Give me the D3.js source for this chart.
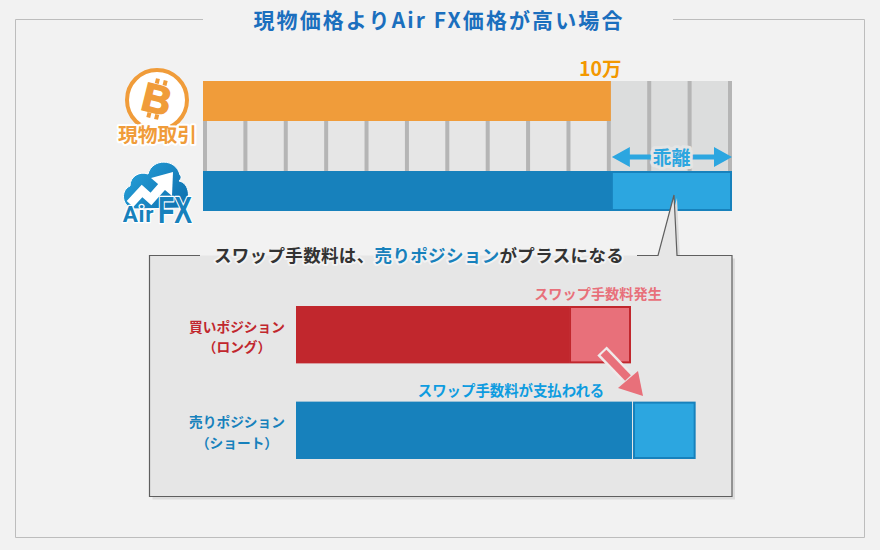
<!DOCTYPE html>
<html>
<head>
<meta charset="utf-8">
<script src="https://cdn.jsdelivr.net/npm/d3@7"></script>
<style>
html, body { margin: 0; padding: 0; background: #f2f2f2; }
svg { display: block; }
text { font-family: "Noto Sans CJK JP", sans-serif; font-weight: 700; text-anchor: middle; dominant-baseline: central; }
.halo { paint-order: stroke; stroke-linejoin: round; }
</style>
</head>
<body>
<svg id="chart" width="880" height="550"></svg>
<script>
// top chart, in units of 1万
var gridTicks = [0, 1, 2, 3, 4, 5, 6, 7, 8, 9, 10, 11, 12, 13];
var topRows = ['現物取引', 'gap', 'AirFX'];
var spotPrice = 10;
var airFxPrice = 13;
var spotLabel = '10万';
var gapLabel = '乖離';

// bottom chart
var positions = ['買いポジション', '売りポジション'];
var positionNotes = ['（ロング）', '（ショート）'];
var baseValues = [8.15, 10.03];
var swapValues = [1.85, 1.87];
var swapLabels = ['スワップ手数料発生', 'スワップ手数料が支払われる'];

var orange = '#f09c3a', blue = '#1781bc', lightBlue = '#2ca6e0';
var red = '#c1272d', pink = '#e8707a';

var svg = d3.select('#chart');

// outer frame, open at the top for the title
svg.append('path')
    .attr('d', 'M203,19.5H15.5V537.5H864.5V19.5H673')
    .attr('fill', 'none')
    .attr('stroke', '#bdbdbd');
svg.append('text')
    .attr('x', 439).attr('y', 18.5)
    .attr('font-size', 21)
    .attr('letter-spacing', 2.1)
    .attr('fill', '#1b6fbe')
    .text('現物価格よりAir FX価格が高い場合');

//top chart
var x = d3.scaleLinear().domain([0, 13]).range([203, 728]);
var rowHeight = 40;
var tickWidth = 4;

svg.append('rect')
    .attr('x', x(0)).attr('y', 81)
    .attr('width', x(spotPrice) - x(0) + 4)
    .attr('height', 90)
    .attr('fill', '#e6e6e6');
svg.append('rect')
    .attr('x', x(spotPrice) + 4).attr('y', 81)
    .attr('width', x(airFxPrice) - x(spotPrice))
    .attr('height', 90)
    .attr('fill', '#dcdddd');
svg.append('g').selectAll('rect')
    .data(gridTicks)
    .enter().append('rect')
    .attr('x', (d) => { return x(d); })
    .attr('y', 81)
    .attr('width', tickWidth)
    .attr('height', 90)
    .attr('fill', '#b5b5b5');

var barEnd = x(airFxPrice) + tickWidth;
svg.append('rect')
    .attr('x', x(0)).attr('y', 81)
    .attr('width', x(spotPrice) + tickWidth - x(0))
    .attr('height', rowHeight)
    .attr('fill', orange);
svg.append('rect')
    .attr('x', x(0)).attr('y', 171)
    .attr('width', barEnd - x(0))
    .attr('height', rowHeight)
    .attr('fill', blue);
svg.append('rect')
    .attr('x', x(spotPrice) + tickWidth + 1).attr('y', 172)
    .attr('width', barEnd - x(spotPrice) - tickWidth - 2)
    .attr('height', rowHeight - 2)
    .attr('fill', lightBlue)
    .attr('stroke', blue)
    .attr('stroke-width', 2);

svg.append('text')
    .attr('x', x(spotPrice) - 6.5).attr('y', 67.5)
    .attr('font-size', 19.5)
    .attr('fill', '#f39800')
    .text(spotLabel);

//gap arrow
var gapStart = x(spotPrice) + tickWidth + 1, gapEnd = barEnd, gapY = 157;
svg.append('path')
    .attr('d', 'M' + gapStart + ',' + gapY + 'l18,-10v7.5H' + (gapEnd - 18) + 'v-7.5l18,10l-18,10v-7.5H' + (gapStart + 18) + 'v7.5z')
    .attr('fill', lightBlue);
svg.append('text')
    .attr('class', 'halo')
    .attr('x', (gapStart + gapEnd) / 2 - 0.5).attr('y', gapY - 1)
    .attr('font-size', 19)
    .attr('fill', lightBlue)
    .attr('stroke', '#e4e5e5')
    .attr('stroke-width', 6)
    .text(gapLabel);

//bitcoin logo
var btc = svg.append('g');
btc.append('circle')
    .attr('cx', 157).attr('cy', 100).attr('r', 30)
    .attr('fill', '#fff')
    .attr('stroke', orange)
    .attr('stroke-width', 4);
var btcMark = btc.append('g').attr('transform', 'translate(157,99) rotate(14)');
btcMark.append('text')
    .attr('x', 0).attr('y', 0)
    .attr('font-size', 40)
    .attr('fill', orange)
    .attr('stroke', orange)
    .attr('stroke-width', 1.6)
    .style('font-family', '"Liberation Sans", sans-serif')
    .text('B');
// the two stubs above and below the B
[-6, 2].forEach((bx) =>
{
    [-20, 15].forEach((by) =>
    {
        btcMark.append('rect')
            .attr('x', bx).attr('y', by)
            .attr('width', 4).attr('height', 5)
            .attr('fill', orange);
    });
});
svg.append('text')
    .attr('class', 'halo')
    .attr('x', 157.5).attr('y', 133)
    .attr('font-size', 19.8)
    .attr('fill', orange)
    .attr('stroke', '#fff')
    .attr('stroke-width', 4)
    .text(topRows[0]);

//AirFX logo
var cloud = svg.append('g');
var defs = svg.append('defs');
var grad = defs.append('linearGradient').attr('id', 'cloudFill')
    .attr('x1', 0).attr('y1', 0).attr('x2', 1).attr('y2', 0.6);
grad.append('stop').attr('offset', 0).attr('stop-color', '#28a4dc');
grad.append('stop').attr('offset', 1).attr('stop-color', '#1175b3');
cloud.append('path')
    .attr('d', 'M132,209C121,204 121,190 130,186C130,176 140,171 148,174C152,158 176,158 180,175C182,177 181,179 179,181C190,183 191,200 184,208z')
    .attr('fill', 'url(#cloudFill)')
    .attr('stroke', '#fff')
    .attr('stroke-width', 1);
cloud.append('path')
    .attr('d', 'M130,204L142,191L151,199L166,182')
    .attr('fill', 'none')
    .attr('stroke', '#fff')
    .attr('stroke-width', 9);
cloud.append('path')
    .attr('d', 'M173,172L151,178L172,196z')
    .attr('fill', '#fff');
cloud.append('text')
    .attr('class', 'halo')
    .attr('x', 138.5).attr('y', 213.5)
    .attr('font-size', 22.5)
    .attr('font-weight', 900)
    .attr('letter-spacing', 0.8)
    .attr('fill', blue)
    .attr('stroke', '#fff')
    .attr('stroke-width', 2.5)
    .style('font-family', 'Roboto, "Liberation Sans", sans-serif')
    .text('Air');
cloud.append('text')
    .attr('class', 'halo')
    .attr('transform', 'translate(175,209.5) scale(0.92,1.3)')
    .attr('font-size', 29)
    .attr('fill', blue)
    .attr('stroke', '#fff')
    .attr('stroke-width', 2)
    .style('font-family', '"Liberation Sans", sans-serif')
    .text('FX');

//callout box
var calloutOutline = 'M149.5,255.5H658L674,195L677,255.5H732V496.5H149.5z';
svg.append('path')
    .attr('d', calloutOutline)
    .attr('transform', 'translate(3,3)')
    .attr('fill', '#dcdcdc');
svg.append('path')
    .attr('d', calloutOutline)
    .attr('fill', '#e6e6e6');
svg.append('path')
    .attr('d', 'M637,255.5H658L674,195L677,255.5H732V496.5H149.5V255.5H200')
    .attr('fill', 'none')
    .attr('stroke', '#5f5f5f')
    .attr('stroke-width', 1.2);

var calloutTitle = svg.append('text')
    .attr('class', 'halo')
    .attr('x', 419).attr('y', 254)
    .attr('font-size', 17.5)
    .attr('letter-spacing', 0.35)
    .attr('fill', '#333')
    .attr('stroke', '#f2f2f2')
    .attr('stroke-width', 4);
calloutTitle.append('tspan').text('スワップ手数料は、');
calloutTitle.append('tspan').attr('fill', blue).text('売りポジション');
calloutTitle.append('tspan').text('がプラスになる');

//position bars
var x2 = d3.scaleLinear().domain([0, 10]).range([296, 631]);
var y2 = d3.scaleBand().domain(positions).range([306, 459]).paddingInner(0.4);
var posBase = [red, blue];
var posSwap = [pink, lightBlue];
var posLabel = [red, blue];

svg.append('g').selectAll('rect')
    .data(positions)
    .enter().append('rect')
    .attr('x', x2(0))
    .attr('y', (d) => { return y2(d); })
    .attr('width', (d, i) => { return x2(baseValues[i]) - x2(0); })
    .attr('height', y2.bandwidth())
    .attr('fill', (d, i) => { return posBase[i]; });

// the short side keeps a small gap before the swap block
var swapGap = [0, 1];
svg.append('g').selectAll('rect')
    .data(positions)
    .enter().append('rect')
    .attr('x', (d, i) => { return x2(baseValues[i]) + swapGap[i] + 1; })
    .attr('y', (d) => { return y2(d) + 1; })
    .attr('width', (d, i) => { return x2(baseValues[i] + swapValues[i]) - x2(baseValues[i]) - 2; })
    .attr('height', y2.bandwidth() - 2)
    .attr('fill', (d, i) => { return posSwap[i]; })
    .attr('stroke', (d, i) => { return posBase[i]; })
    .attr('stroke-width', 2);

svg.append('g').selectAll('text')
    .data(positions)
    .enter().append('text')
    .attr('x', 237)
    .attr('y', (d) => { return y2(d) + 19.5; })
    .attr('font-size', 13.7)
    .attr('fill', (d, i) => { return posLabel[i]; })
    .text((d) => { return d; });
svg.append('g').selectAll('text')
    .data(positionNotes)
    .enter().append('text')
    .attr('x', 237)
    .attr('y', (d, i) => { return y2(positions[i]) + 40; })
    .attr('font-size', 13.7)
    .attr('fill', (d, i) => { return posLabel[i]; })
    .text((d) => { return d; });

svg.append('text')
    .attr('x', 598).attr('y', 293)
    .attr('font-size', 14.2)
    .attr('fill', pink)
    .text(swapLabels[0]);
svg.append('text')
    .attr('x', 511).attr('y', 389.5)
    .attr('font-size', 14.4)
    .attr('fill', '#0e9ce0')
    .text(swapLabels[1]);

//transfer arrow
svg.append('path')
    .attr('d', 'M602,351L626,376')
    .attr('stroke', '#f0eaea')
    .attr('stroke-width', 13)
    .attr('fill', 'none');
svg.append('path')
    .attr('d', 'M603.5,352.5L628,378')
    .attr('stroke', pink)
    .attr('stroke-width', 8)
    .attr('fill', 'none');
svg.append('path')
    .attr('d', 'M643,396L618,388L638,371z')
    .attr('fill', pink);
</script>
</body>
</html>
